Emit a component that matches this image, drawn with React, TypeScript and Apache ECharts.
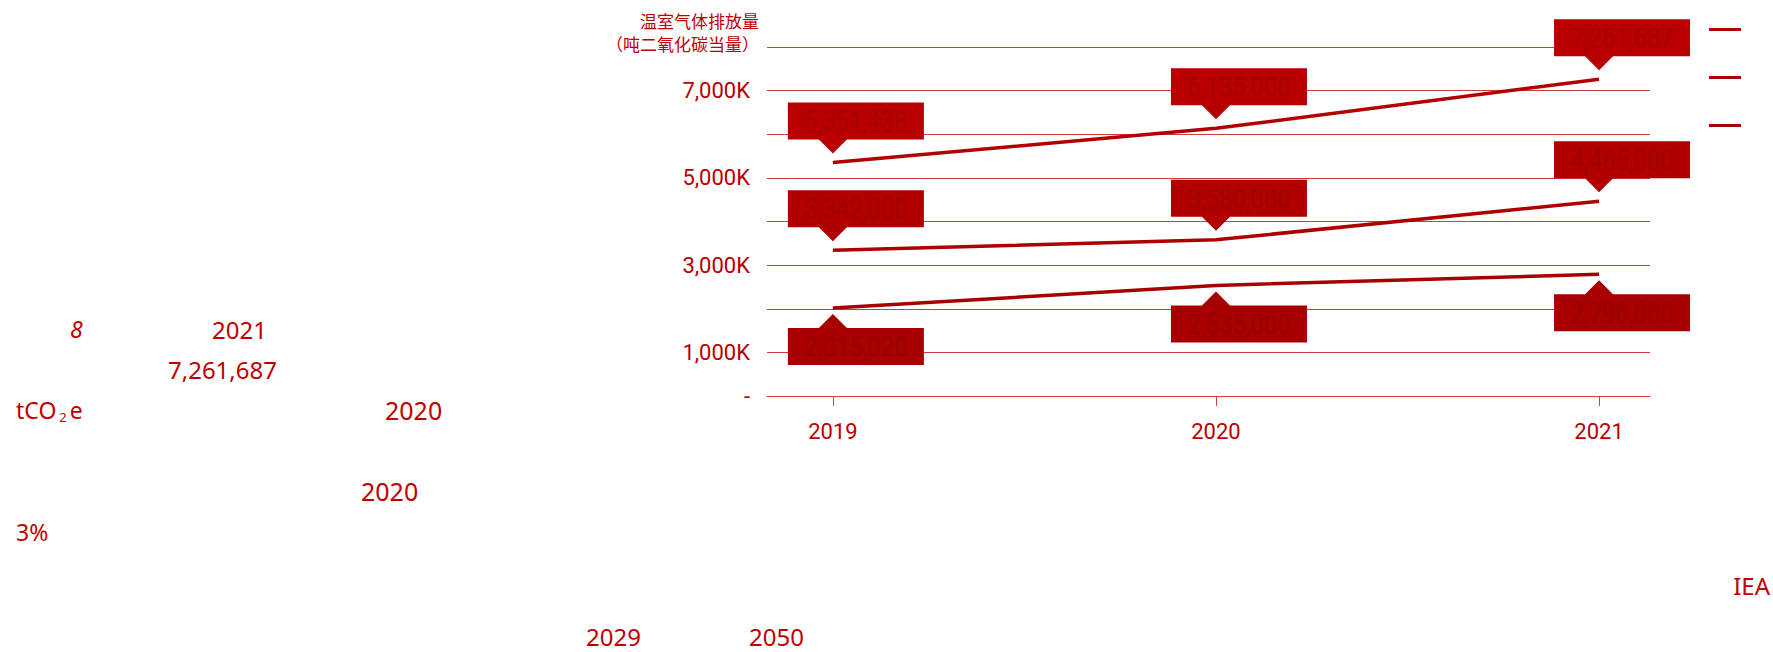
import React, { useEffect, useRef } from "react";
import * as echarts from "echarts";

const categories = ["2019", "2020", "2021"];
const seriesNames = ["A", "B", "C"];
const seriesTop = [5351438, 6135000, 7261687];
const seriesMid = [3342000, 3580000, 4465000];
const seriesLow = [2015020, 2535000, 2790000];
const yLabelValues = [0, 1000000, 3000000, 5000000, 7000000];

const lineColors = ["#b30000", "#ad0000", "#a80000"];
const boxColors = ["#b90000", "#b10000", "#a80000"];
const boxTextColors = ["#aa0000", "#a20000", "#9a0000"];

const RED = "#c00000";
const COND = 'Roboto, "Liberation Sans", sans-serif';
const BODY = '"Noto Sans", Lato, sans-serif';

function toPairs(vals: number[]) {
  return vals.map((v, i) => [i, v]);
}

function calloutSeries(vals: number[], idx: number, below: boolean) {
  return {
    type: "custom",
    z: 5,
    data: toPairs(vals),
    renderItem: (params: any, api: any) => {
      const x = api.value(0);
      const v = api.value(1);
      const [px, py] = api.coord([x, v]);
      const L = px - 45;
      const R = px + 91;
      let pts: number[][];
      let cy: number;
      if (!below) {
        const top = py - 60;
        const base = py - 23;
        const tip = py - 9;
        pts = [[L, top], [R, top], [R, base], [px + 14, base], [px, tip], [px - 14, base], [L, base]];
        cy = (top + base) / 2;
      } else {
        const bot = py + 57;
        const base = py + 20;
        const tip = py + 6;
        pts = [[L, bot], [R, bot], [R, base], [px + 14, base], [px, tip], [px - 14, base], [L, base]];
        cy = (bot + base) / 2;
      }
      return {
        type: "group",
        children: [
          { type: "polygon", shape: { points: pts }, style: { fill: boxColors[idx] } },
          {
            type: "text",
            x: (L + R) / 2,
            y: cy,
            scaleX: 0.82,
            style: {
              text: Math.round(v).toLocaleString("en-US"),
              fill: boxTextColors[idx],
              fontSize: 29,
              fontFamily: COND,
              align: "center",
              verticalAlign: "middle",
            },
          },
        ],
      };
    },
  };
}

export default function App() {
  const ref = useRef<HTMLDivElement>(null);
  useEffect(() => {
    document.body.style.margin = "0";
    const chart = echarts.init(ref.current!, null, { renderer: "svg" });
    const lineS = (name: string, vals: number[], i: number) => ({
      name,
      type: "line",
      data: toPairs(vals),
      symbol: "none",
      lineStyle: { color: lineColors[i], width: 3.5 },
      itemStyle: { color: lineColors[i] },
      z: 3,
    });
    const txt = (text: string, x: number, y: number, extra: any = {}) => ({
      type: "text",
      x,
      y,
      style: {
        text,
        fill: RED,
        fontSize: 23,
        fontFamily: BODY,
        verticalAlign: "middle",
        ...extra,
      },
    });
    chart.setOption({
      animation: false,
      grid: { left: 767, right: 123, top: 47, bottom: 256 },
      legend: {
        orient: "vertical",
        left: 1704,
        top: 23,
        itemWidth: 32,
        itemHeight: 3,
        itemGap: 45,
        icon: "rect",
        formatter: () => "",
        textStyle: { fontSize: 3, lineHeight: 3 },
        data: seriesNames,
      },
      xAxis: {
        type: "value",
        min: -0.172,
        max: 2.133,
        axisLine: { show: true, lineStyle: { color: "#d04040", width: 1 } },
        axisTick: {
          show: true,
          customValues: [0, 1, 2],
          length: 10,
          lineStyle: { color: "#d04040" },
        },
        splitLine: { show: false },
        axisLabel: {
          customValues: [0, 1, 2],
          formatter: (v: number) => categories[Math.round(v)] ?? "",
          color: "#b80000",
          fontSize: 22,
          fontFamily: COND,
          margin: 24,
        },
      },
      yAxis: {
        type: "value",
        min: 0,
        max: 8000000,
        interval: 1000000,
        axisLine: { show: false },
        axisTick: { show: false },
        splitLine: { lineStyle: { color: "#d03c3c", width: 1.2 } },
        axisLabel: {
          customValues: yLabelValues,
          formatter: (v: number) => (v === 0 ? "-" : (v / 1000).toLocaleString("en-US") + "K"),
          color: "#b80000",
          fontSize: 22,
          fontFamily: COND,
          margin: 17,
        },
      },
      graphic: [
        txt("温室气体排放量", 759, 20, { fontSize: 17, align: "right", fontFamily: '"Noto Sans CJK SC", sans-serif' }),
        txt("（吨二氧化碳当量）", 759, 43, { fontSize: 17, align: "right", fontFamily: '"Noto Sans CJK SC", sans-serif' }),
        txt("8", 70, 329, { fontStyle: "italic" }),
        txt("2021", 212, 329, { fontSize: 24 }),
        txt("7,261,687", 168, 369, { fontSize: 24 }),
        {
          type: "text",
          x: 16,
          y: 410,
          style: {
            text: "tCO{s|2}e",
            fill: RED,
            fontSize: 23,
            fontFamily: BODY,
            verticalAlign: "middle",
            rich: { s: { fontSize: 13, fill: RED, padding: [14, 3, 0, 3], fontFamily: BODY } },
          },
        },
        txt("2020", 385, 410, { fontSize: 25 }),
        txt("2020", 361, 491, { fontSize: 25 }),
        txt("3%", 16, 532),
        txt("2029", 586, 636, { fontSize: 24 }),
        txt("2050", 749, 636, { fontSize: 24 }),
        txt("IEA", 1770, 585, { align: "right", fontSize: 24 }),
      ],
      series: [
        lineS(seriesNames[0], seriesTop, 0),
        lineS(seriesNames[1], seriesMid, 1),
        lineS(seriesNames[2], seriesLow, 2),
        calloutSeries(seriesTop, 0, false),
        calloutSeries(seriesMid, 1, false),
        calloutSeries(seriesLow, 2, true),
      ],
    });
    return () => chart.dispose();
  }, []);
  return <div ref={ref} style={{ width: 1773, height: 652 }} />;
}
